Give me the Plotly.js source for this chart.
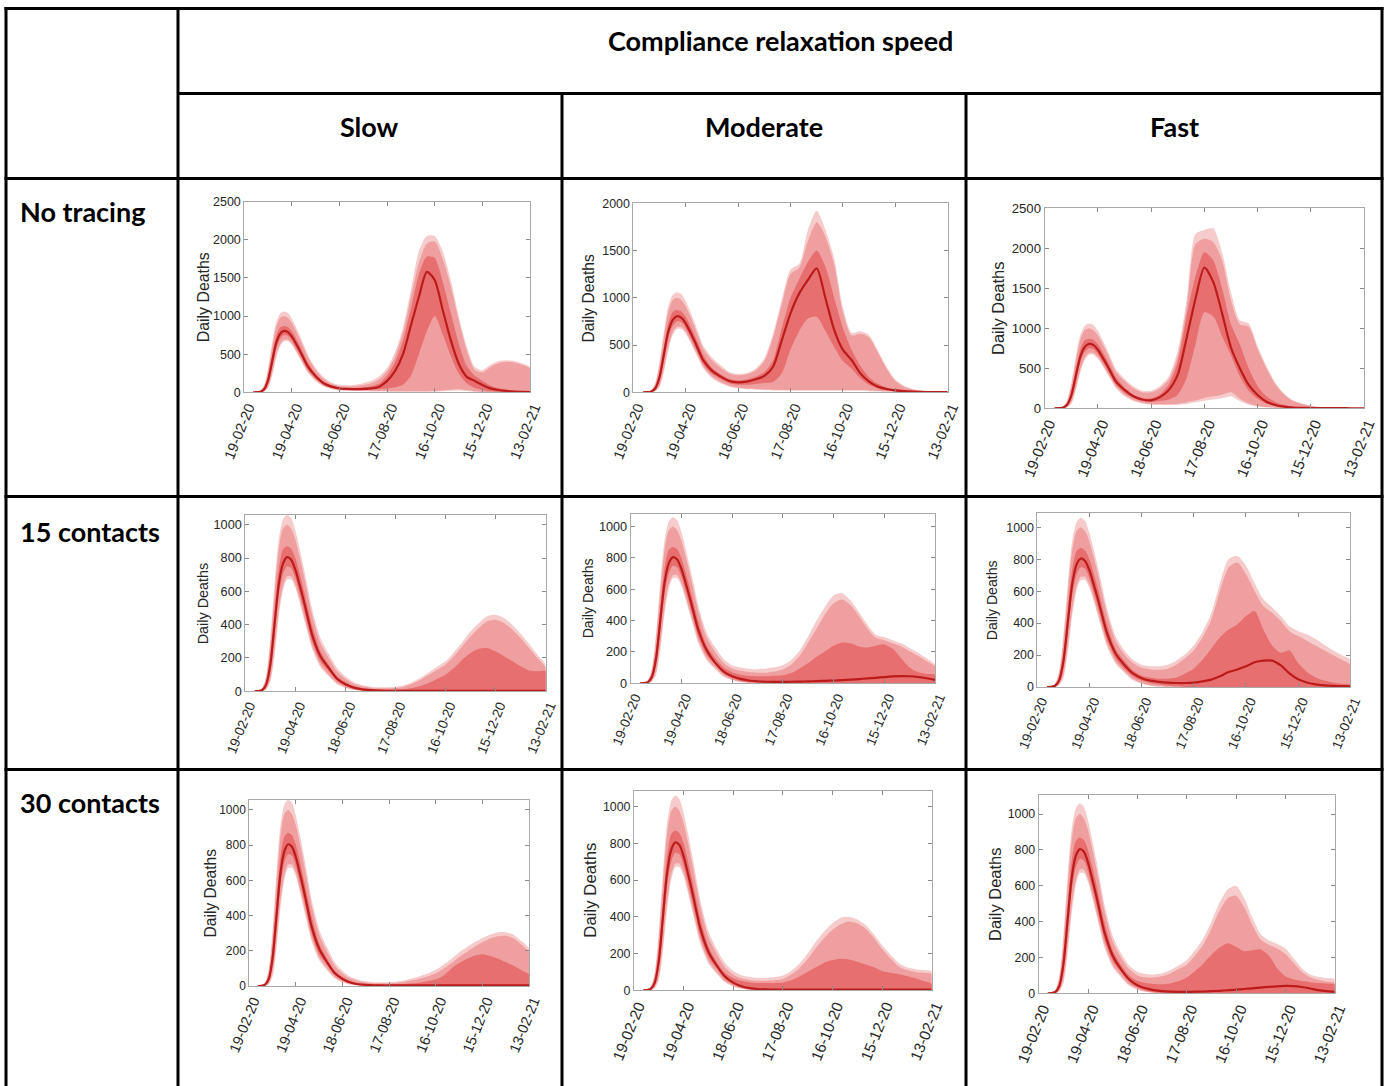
<!DOCTYPE html>
<html><head><meta charset="utf-8">
<script src="https://cdn.plot.ly/plotly-3.0.1.min.js"></script>
<style>html,body{margin:0;padding:0;background:#fff;}#chart{width:1389px;height:1086px;}</style>
</head><body><div id="chart"></div>
<script>
const W = 1389, H = 1086;

// ---- data ----
const DAYS_WAVE1 = [11,15,20,25,30,35,40,45,50,55,60,65,70,75,80];
const DAYS_LATER = [90,100,110,120,130,140,150,160,170,180,190,200,210,220,230,240,250,260,270,280,290,300,310,320,330,340,350,360];
const TICK_DAYS = [0,60,120,180,240,300,360];
const TICK_LABELS = ['19-02-20','19-04-20','18-06-20','17-08-20','16-10-20','15-12-20','13-02-21'];
const Y_TICKS_2500 = [0,500,1000,1500,2000,2500];
const Y_TICKS_2000 = [0,500,1000,1500,2000];
const Y_TICKS_1000 = [0,200,400,600,800,1000];
const ROW_LABELS = ['No tracing','15 contacts','30 contacts'];
const COL_LABELS = ['Slow','Moderate','Fast'];
const HEADER = 'Compliance relaxation speed';
const Y_TITLE = 'Daily Deaths';

// first wave (identical in all scenarios)
const W1_MED  = [0,1,6,40,160,400,640,765,805,790,730,640,545,440,340];
const W1_LO50 = [0,1,4,28,120,330,570,700,750,740,680,590,495,395,300];
const W1_HI50 = [0,2,9,55,210,480,730,850,870,855,800,710,610,500,395];
const W1_LO95 = [0,0,2,15,75,250,480,630,690,690,640,555,460,365,275];
const W1_HI95 = [0,3,14,80,280,580,850,975,1000,975,910,810,700,580,460];
const W1_MIN  = [0,0,1,10,55,210,440,600,670,670,620,535,440,345,255];
const W1_MAX  = [0,4,18,95,320,640,910,1030,1060,1040,965,860,745,620,495];

// later part, per scenario
const LOW_TAIL_LO95 = [160,100,50,25,10,4,1,0,0,0,0,0,0,0,0,0,0,0,0,0,0,0,0,0,0,0,0,0];
const LOW_TAIL_MIN  = [145,90,42,20,8,3,0,0,0,0,0,0,0,0,0,0,0,0,0,0,0,0,0,0,0,0,0,0];
const ZERO_LO50_A   = [180,120,62,32,15,6,2,0,0,0,0,0,0,0,0,0,0,0,0,0,0,0,0,0,0,0,0,0];

const NT_SLOW = {
  med:  [210,118,74,50,45,42,45,52,74,150,280,500,880,1250,1580,1470,1080,690,380,205,150,96,52,30,18,10,6,4],
  lo50: [180,100,60,40,36,32,32,35,40,50,65,100,220,500,800,1000,760,480,250,120,60,30,15,8,4,2,1,0],
  hi50: [240,140,88,62,56,56,62,78,115,220,400,680,1100,1550,1780,1760,1450,1050,650,350,220,150,90,55,35,22,15,10],
  lo95: [160,85,50,30,25,22,20,18,16,15,15,15,15,15,15,18,25,35,40,30,15,8,4,2,1,0,0,0],
  hi95: [290,175,112,82,76,80,95,120,170,280,470,780,1250,1700,1950,1980,1750,1400,950,560,300,260,330,380,400,390,360,310],
  min:  [145,75,42,24,20,18,15,12,10,8,8,8,8,8,8,10,15,20,25,18,8,4,2,1,0,0,0,0],
  max:  [320,200,128,97,92,100,120,150,210,320,530,850,1350,1850,2050,2050,1850,1480,1010,610,340,290,360,410,420,410,380,330]
};
const NT_MOD = {
  med:  [230,166,120,106,113,138,173,270,550,836,1047,1190,1312,995,660,448,342,200,113,60,35,20,12,7,4,3,2,1],
  lo50: [195,140,95,80,80,88,100,110,200,450,650,780,800,650,480,330,250,150,80,40,20,10,5,3,2,1,1,0],
  hi50: [260,190,140,125,135,165,215,340,680,1000,1200,1380,1500,1330,1000,680,450,280,160,90,50,30,18,10,6,4,3,2],
  lo95: [170,110,70,50,40,35,30,28,25,25,25,25,25,25,25,25,25,25,20,15,10,6,4,2,1,1,0,0],
  hi95: [340,260,200,180,190,230,330,580,930,1250,1320,1600,1800,1650,1350,850,600,620,580,420,250,120,60,30,15,8,5,3],
  min:  [150,95,60,42,32,28,24,20,18,16,16,16,16,16,16,16,16,16,12,8,5,3,2,1,0,0,0,0],
  max:  [370,285,215,195,205,250,360,620,980,1300,1360,1720,1920,1720,1420,900,630,645,605,445,270,135,70,35,18,10,6,4]
};
const NT_FAST = {
  med:  [230,150,110,100,140,230,420,880,1370,1760,1580,1187,760,500,292,167,83,42,20,10,6,4,3,2,1,1,0,0],
  lo50: [195,130,90,80,90,110,170,380,800,1200,1150,900,660,400,220,120,60,30,15,8,4,2,1,1,0,0,0,0],
  hi50: [260,170,130,125,175,300,580,1150,1650,1950,1850,1500,1050,800,500,280,150,80,40,20,10,6,4,3,2,1,1,0],
  lo95: [170,105,70,55,50,50,55,75,100,130,150,170,200,120,60,30,15,8,4,2,1,1,0,0,0,0,0,0],
  hi95: [340,250,200,200,250,360,650,1250,2050,2120,2080,1850,1350,1050,1020,740,500,300,170,90,55,30,15,8,4,2,1,1],
  min:  [150,90,60,45,40,40,42,55,75,95,110,125,150,90,45,22,10,5,3,1,0,0,0,0,0,0,0,0],
  max:  [370,275,220,220,280,400,720,1350,2180,2230,2250,1950,1450,1100,1060,780,530,320,185,100,60,33,17,9,5,3,2,1]
};
const C15_SLOW = {
  med:  [210,140,75,42,22,12,7,4,3,3,3,3,3,3,3,3,3,3,3,3,3,3,3,3,3,3,3,3],
  lo50: ZERO_LO50_A,
  hi50: [240,160,90,55,30,18,12,10,10,10,12,20,32,50,75,100,140,190,230,255,260,240,210,180,150,125,120,120],
  lo95: LOW_TAIL_LO95,
  hi95: [290,200,120,75,45,30,22,18,18,20,28,45,70,100,130,160,210,270,330,380,420,430,410,370,320,260,200,140],
  min:  LOW_TAIL_MIN,
  max:  [320,225,140,90,55,38,28,24,24,27,36,55,82,115,148,180,235,295,360,410,450,460,440,400,345,285,220,160]
};
const C15_MOD = {
  med:  [210,130,75,45,28,18,13,10,9,9,10,11,12,14,16,18,20,23,27,31,35,40,44,46,45,40,32,22],
  lo50: ZERO_LO50_A,
  hi50: [240,160,100,70,55,48,45,45,48,52,65,95,130,170,205,240,260,255,235,228,240,248,220,160,100,70,60,55],
  lo95: LOW_TAIL_LO95,
  hi95: [290,200,130,95,80,72,68,68,75,88,120,175,260,350,440,510,535,500,430,350,290,275,255,235,205,175,140,105],
  min:  LOW_TAIL_MIN,
  max:  [320,230,155,115,100,92,90,95,102,115,150,210,300,400,490,560,575,530,455,375,310,295,275,255,225,195,160,120]
};
const C15_FAST = {
  med:  [210,140,85,55,40,32,27,25,25,28,35,46,67,94,110,130,155,165,165,135,85,48,28,16,10,7,5,4],
  lo50: [180,115,68,40,25,15,8,4,0,0,0,0,0,0,0,0,0,0,0,0,0,0,0,0,0,0,0,0],
  hi50: [240,165,105,72,58,52,52,60,85,115,170,240,310,360,392,444,476,360,260,215,230,150,95,60,40,28,20,15],
  lo95: LOW_TAIL_LO95,
  hi95: [290,205,150,120,110,108,115,140,180,230,310,420,600,748,780,706,600,507,465,413,350,319,290,260,230,200,170,140],
  min:  LOW_TAIL_MIN,
  max:  [320,230,170,140,130,130,140,165,205,260,345,460,650,800,820,760,650,550,500,445,380,350,330,300,265,230,200,170]
};
const C30_SLOW = {
  med:  [210,135,72,40,20,10,6,4,3,3,3,3,3,3,3,3,3,3,3,3,3,3,3,3,3,3,3,3],
  lo50: ZERO_LO50_A,
  hi50: [240,155,85,50,28,16,11,9,9,9,10,12,15,20,28,38,60,100,130,155,172,180,170,155,135,115,90,65],
  lo95: LOW_TAIL_LO95,
  hi95: [290,195,115,70,42,28,20,16,15,16,19,24,32,42,55,72,100,130,165,195,225,250,270,282,285,270,235,190],
  min:  LOW_TAIL_MIN,
  max:  [320,220,135,85,52,36,27,22,21,22,26,33,44,57,72,92,122,155,192,222,250,272,292,305,305,290,255,210]
};
const C30_MOD = {
  med:  [210,135,75,42,22,12,7,5,4,4,4,4,4,4,4,4,4,4,4,4,4,4,4,4,4,4,4,4],
  lo50: ZERO_LO50_A,
  hi50: [240,155,95,65,50,43,40,40,40,42,55,75,100,125,150,165,172,168,155,140,125,105,95,88,78,65,50,35],
  lo95: LOW_TAIL_LO95,
  hi95: [290,200,125,85,65,55,52,52,55,62,85,120,170,230,285,330,360,375,365,335,285,225,175,130,110,100,95,88],
  min:  LOW_TAIL_MIN,
  max:  [320,225,150,105,82,72,68,68,72,80,105,145,200,265,320,365,395,400,385,355,305,245,195,150,125,115,110,105]
};
const C30_FAST = {
  med:  [210,135,78,45,28,18,12,9,8,8,9,10,12,14,17,20,24,28,32,36,39,41,40,35,27,18,12,8],
  lo50: ZERO_LO50_A,
  hi50: [240,160,100,70,57,52,50,55,68,88,125,165,215,255,280,260,235,240,245,210,140,95,78,68,62,58,54,50],
  lo95: LOW_TAIL_LO95,
  hi95: [290,200,135,100,88,88,95,110,135,160,210,270,360,460,530,545,480,380,300,270,250,220,170,120,90,75,65,60],
  min:  LOW_TAIL_MIN,
  max:  [320,225,155,120,108,105,112,128,155,185,240,305,400,505,580,600,530,420,330,295,275,250,195,140,105,92,85,80]
};

// ---- layout of the panels (pixel boxes) ----
const PANELS = [
  {d:NT_SLOW,  yr:[0,2500], yt:Y_TICKS_2500, box:[244.3,530,201.7,392.3], tf:15.9, yf:12.5, xf:14.6, td:41},
  {d:NT_MOD,   yr:[0,2000], yt:Y_TICKS_2000, box:[633.3,947.7,203.3,392.3], tf:15.6, yf:12.4, xf:14.6, td:44.5},
  {d:NT_FAST,  yr:[0,2500], yt:Y_TICKS_2500, box:[1044.7,1364,208.3,408.3], tf:16.5, yf:13.2, xf:15, td:46},
  {d:C15_SLOW, yr:[0,1060], yt:Y_TICKS_1000, box:[245.3,545.7,514.7,691.3], tf:14.4, yf:12.7, xf:13.6, td:42},
  {d:C15_MOD,  yr:[0,1080], yt:Y_TICKS_1000, box:[630.7,935,514,683.3], tf:14.1, yf:12.7, xf:13.5, td:43},
  {d:C15_FAST, yr:[0,1090], yt:Y_TICKS_1000, box:[1037.3,1350.3,513,687], tf:14.1, yf:12.4, xf:13.5, td:45},
  {d:C30_SLOW, yr:[0,1055], yt:Y_TICKS_1000, box:[249.3,529.3,800.3,986], tf:15.6, yf:12, xf:14.5, td:39},
  {d:C30_MOD,  yr:[0,1085], yt:Y_TICKS_1000, box:[634,931.7,791,990.3], tf:16.8, yf:12.4, xf:15.3, td:43},
  {d:C30_FAST, yr:[0,1105], yt:Y_TICKS_1000, box:[1038.7,1334.7,795.3,993.3], tf:16.5, yf:12.4, xf:15.2, td:43}
];

const C_LIGHT = '#f6cbcb', C_MED = '#ef9f9f', C_DARK = '#e86f6f', C_LINE = '#bb1b1b';
const FONT = 'Liberation Sans, Arial, Helvetica, sans-serif';
const TXT = '#262626';

const px = x => x / W;
const py = y => 1 - y / H;

const days = DAYS_WAVE1.concat(DAYS_LATER);
const traces = [];
const layout = {
  width: W, height: H, margin: {l:0, r:0, t:0, b:0},
  paper_bgcolor: '#ffffff', plot_bgcolor: '#ffffff',
  showlegend: false, font: {family: FONT, color: TXT},
  shapes: [], annotations: []
};

function band(lo, hi, color, xa, ya) {
  const xs = days.concat(days.slice().reverse());
  const ys = hi.concat(lo.slice().reverse());
  return {x: xs, y: ys, type: 'scatter', mode: 'lines', fill: 'toself', fillcolor: color,
          line: {width: 0, shape: 'spline', smoothing: 0.7}, xaxis: xa, yaxis: ya, hoverinfo: 'skip'};
}

PANELS.forEach((p, i) => {
  const n = i + 1;
  const xa = 'x' + n, ya = 'y' + n;
  const d = p.d;
  const med = W1_MED.concat(d.med);
  const lo50 = W1_LO50.concat(d.lo50), hi50 = W1_HI50.concat(d.hi50);
  const lo95 = W1_LO95.concat(d.lo95), hi95 = W1_HI95.concat(d.hi95);
  const mn = W1_MIN.concat(d.min), mx = W1_MAX.concat(d.max);
  traces.push(band(mn, mx, C_LIGHT, xa, ya));
  traces.push(band(lo95, hi95, C_MED, xa, ya));
  traces.push(band(lo50, hi50, C_DARK, xa, ya));
  traces.push({x: days, y: med, type: 'scatter', mode: 'lines', line: {color: C_LINE, width: 2.2, shape: 'spline', smoothing: 0.7},
               xaxis: xa, yaxis: ya, hoverinfo: 'skip'});
  const [L, R, T, B] = p.box;
  const axBase = {showline: true, linecolor: '#a9a9a9', linewidth: 1, mirror: 'ticks', ticks: 'inside', ticklen: 4,
                  tickcolor: '#8a8a8a', tickwidth: 1, showgrid: false, zeroline: false, fixedrange: true};
  layout['xaxis' + (n === 1 ? '' : n)] = Object.assign({}, axBase, {
    domain: [px(L), px(R)], anchor: ya, range: [0, 360], tickmode: 'array', tickvals: TICK_DAYS, ticktext: TICK_LABELS,
    tickangle: -68, ticklabelshift: 4, tickfont: {size: p.xf, color: TXT, family: FONT}
  });
  layout['yaxis' + (n === 1 ? '' : n)] = Object.assign({}, axBase, {
    domain: [py(B), py(T)], anchor: xa, range: p.yr, tickmode: 'array', tickvals: p.yt,
    tickfont: {size: p.yf, color: TXT, family: FONT}
  });
  layout.annotations.push({text: Y_TITLE, xref: 'paper', yref: 'paper', x: px(L - p.td), y: py((T + B) / 2),
    xanchor: 'center', yanchor: 'middle', textangle: -90, showarrow: false, font: {size: p.tf, color: TXT, family: FONT}});
});

// ---- table grid ----
function hline(y, x0, x1) { layout.shapes.push({type:'line', xref:'paper', yref:'paper', x0:px(x0), x1:px(x1), y0:py(y), y1:py(y), line:{color:'#000', width:3}}); }
function vline(x, y0, y1) { layout.shapes.push({type:'line', xref:'paper', yref:'paper', x0:px(x), x1:px(x), y0:py(y0), y1:py(y1), line:{color:'#000', width:3}}); }
hline(8.5, 4.5, 1383.5);
hline(93.5, 178, 1382);
hline(178.5, 4.5, 1383.5);
hline(496.5, 4.5, 1383.5);
hline(769.5, 4.5, 1383.5);
vline(6, 7, 1090);
vline(1382, 7, 1090);
vline(178, 7, 1090);
vline(562, 93, 1090);
vline(966, 93, 1090);

const HFONT = {family: 'Lato, Open Sans, sans-serif', size: 27, color: '#000'};
function label(text, x, y, xanchor) {
  layout.annotations.push({text: '<b>' + text + '</b>', xref:'paper', yref:'paper', x: px(x), y: py(y),
    xanchor: xanchor, yanchor: 'middle', showarrow: false, font: HFONT});
}
label(HEADER, 780, 41, 'center');
label(COL_LABELS[0], 370, 126, 'center');
label(COL_LABELS[1], 764, 126, 'center');
label(COL_LABELS[2], 1174, 126, 'center');
label(ROW_LABELS[0], 18, 212, 'left');
label(ROW_LABELS[1], 18, 531, 'left');
label(ROW_LABELS[2], 18, 802, 'left');

Plotly.newPlot('chart', traces, layout, {staticPlot: true, displayModeBar: false});
</script>
</body></html>
